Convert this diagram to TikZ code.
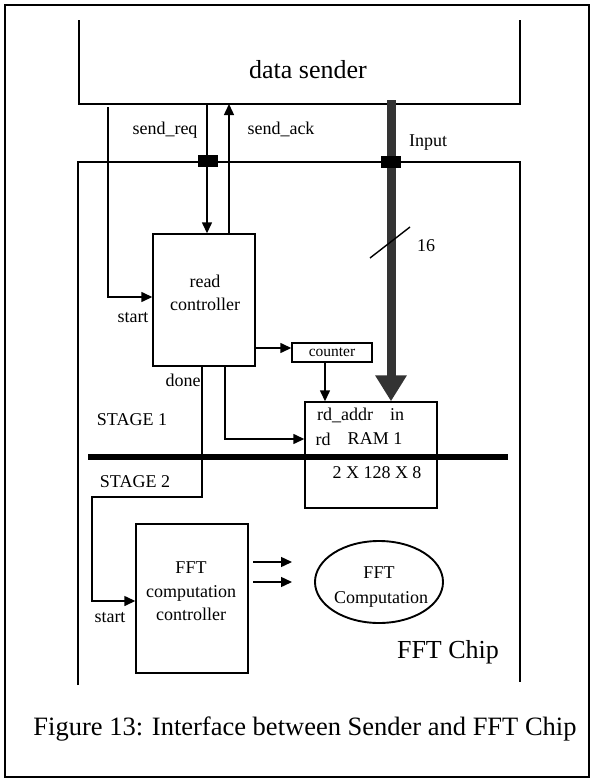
\documentclass[tikz,border=0pt]{standalone}
\usepackage{fontspec}
\setmainfont{Liberation Serif}
\usetikzlibrary{arrows.meta,calc,shapes.geometric}
\begin{document}
\begin{tikzpicture}[x=1pt,y=-1pt, line width=1.4pt,
  arr/.style={-{Triangle[length=11pt,width=10pt]}},
  boxn/.style={draw, rectangle, inner sep=0pt, line width=1.4pt},
  lbl/.style={font=\fontsize{18}{23}\selectfont, inner sep=0pt},
  big/.style={font=\fontsize{26}{30}\selectfont, inner sep=0pt},
  pad/.style={fill=black, minimum width=20pt, minimum height=12pt, inner sep=0pt}]
\useasboundingbox (0,0) rectangle (592,779);
\node[boxn, line width=1.8pt, minimum width=584pt, minimum height=772pt] (frame) at (297,391) {};

% data sender
\coordinate (ds1) at (79,20);
\coordinate (ds2) at (79,104);
\coordinate (ds3) at (520,104);
\coordinate (ds4) at (520,20);
\draw (ds1) -- (ds2) -- (ds3) -- (ds4);
\node[big] (dst) at (308,70) {data sender};

% FFT chip outline
\coordinate (ch1) at (78,685);
\coordinate (ch2) at (78,162);
\coordinate (ch3) at (520,162);
\coordinate (ch4) at (520,682);
\draw (ch1) -- (ch2) -- (ch3) -- (ch4);

% boxes
\node[boxn, minimum width=102pt, minimum height=132pt] (rc) at (204,300) {};
\node[lbl, align=center] (rct) at (205,293) {read\\controller};
\node[boxn, minimum width=80pt, minimum height=19pt, font=\fontsize{15.5}{18}\selectfont] (cnt) at (332,352.5) {counter};
\node[boxn, minimum width=132pt, minimum height=106pt] (ram) at (371,455) {};
\node[boxn, minimum width=112pt, minimum height=149pt] (fc) at (192,598.5) {};
\node[lbl, align=center, font=\fontsize{18}{23.5}\selectfont] (fct) at (191,591.5) {FFT\\computation\\controller};
\node[draw, ellipse, line width=1.9pt, minimum width=128pt, minimum height=82pt, inner sep=0pt] (fe) at (379,582) {};
\node[lbl] (fet1) at (379,573) {FFT};
\node[lbl] (fet2) at (381,599) {Computation};

% input bus
\coordinate (bus0) at (391,100);
\draw[line width=9pt, color=black!80, -{Triangle[length=26pt,width=30pt]}] (bus0) -- (bus0 |- ram.north);
\coordinate (sl1) at (370,258);
\coordinate (sl2) at (410,227);
\draw (sl1) -- (sl2);

% pads
\node[pad] (p1) at (208,161) {};
\node[pad] (p2) at (391,162) {};

% wires
\coordinate (st0) at (108,107);
\coordinate (st1) at (108,297);
\draw[arr] (st0) -- (st1) -- (st1 -| rc.west);
\coordinate (rq0) at (207,104);
\draw[arr] (rq0) -- (rq0 |- rc.north);
\coordinate (ak0) at (229,104);
\draw[arr] (ak0 |- rc.north) -- (ak0);
\coordinate (c0) at (255,348);
\draw[arr] (c0) -- (c0 -| cnt.west);
\coordinate (cd) at (325,362);
\draw[arr] (cd) -- (cd |- ram.north);
\coordinate (rd0) at (225,366);
\coordinate (rd1) at (225,439);
\draw[arr] (rd0) -- (rd1) -- (rd1 -| ram.west);
\coordinate (dn0) at (202,366);
\coordinate (dn1) at (202,497);
\coordinate (dn2) at (92,497);
\coordinate (dn3) at (92,601);
\draw[arr] (dn0) -- (dn1) -- (dn2) -- (dn3) -- (dn3 -| fc.west);
\coordinate (a1) at (253,562);
\coordinate (a2) at (253,582);
\draw[arr] (a1) -- (a1 -| 292,0);
\draw[arr] (a2) -- (a2 -| 292,0);

% stage line
\coordinate (sg1) at (88,457);
\coordinate (sg2) at (508,457);
\draw[line width=5.5pt] (sg1) -- (sg2);

% labels
\node[lbl] at (165,130) {send\_req};
\node[lbl] at (281,129) {send\_ack};
\node[lbl] at (428,143) {Input};
\node[lbl] at (426,246) {16};
\node[lbl] at (133,318) {start};
\node[lbl] at (183,380) {done};
\node[lbl] at (132,420) {STAGE 1};
\node[lbl] at (135,482) {STAGE 2};
\node[lbl] at (345,415) {rd\_addr};
\node[lbl] at (397,415) {in};
\node[lbl] at (323,439) {rd};
\node[lbl] at (375,439) {RAM 1};
\node[lbl] at (377,473) {2 X 128 X 8};
\node[lbl] at (110,618) {start};
\node[big] at (448,652) {FFT Chip};
\node[big, font=\fontsize{26.5}{30}\selectfont] at (305,729) {Figure 13: Interface between Sender and FFT Chip};
\end{tikzpicture}
\end{document}
